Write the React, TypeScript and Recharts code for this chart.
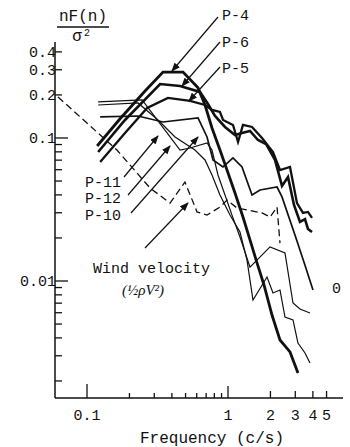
import React from 'react'
import { LineChart, Line, XAxis, YAxis } from 'recharts'

// frequency (c/s) and nF(n)/sigma^2
const p4Freq = [0.118, 0.171, 0.258, 0.346, 0.48, 0.613, 0.687, 0.77, 0.877, 0.984, 1.121, 1.277, 1.432, 1.606, 1.8, 2.051, 2.337, 2.752, 3.135]
const p4Vals = [0.0879, 0.1358, 0.2132, 0.289, 0.289, 0.224, 0.17, 0.1175, 0.0824, 0.0597, 0.0412, 0.028, 0.0194, 0.0134, 0.00938, 0.00578, 0.00387, 0.00319, 0.00227]

const p6Freq = [0.12, 0.186, 0.33, 0.457, 0.633, 0.721, 0.809, 0.952, 1.121, 1.257, 1.432, 1.632, 1.86, 2.154, 2.415, 2.664, 2.938, 3.24, 3.516, 3.69, 3.942]
const p6Vals = [0.0798, 0.1336, 0.2385, 0.231, 0.2098, 0.1729, 0.1425, 0.1194, 0.1049, 0.1084, 0.1119, 0.0968, 0.0908, 0.0702, 0.0462, 0.0534, 0.034, 0.0259, 0.0271, 0.0231, 0.022]

const p5Freq = [0.124, 0.186, 0.267, 0.375, 0.538, 0.687, 0.77, 0.877, 0.922, 1.085, 1.178, 1.277, 1.48, 1.742, 2.085, 2.337, 2.752, 3.084, 3.404, 3.69, 3.942]
const p5Vals = [0.068, 0.1084, 0.1621, 0.1905, 0.1815, 0.1701, 0.157, 0.152, 0.1336, 0.1233, 0.0938, 0.1233, 0.1194, 0.1, 0.0798, 0.0597, 0.0627, 0.0351, 0.0299, 0.0304, 0.0276]

const p11Freq = [0.124, 0.23, 0.346, 0.613, 0.71, 0.783, 0.922, 1.085, 1.257, 1.48, 1.686, 2.227, 2.415, 2.985, 3.516, 4.006]
const p11Vals = [0.1403, 0.1425, 0.1294, 0.138, 0.1016, 0.0702, 0.0627, 0.0725, 0.0627, 0.0399, 0.0433, 0.0454, 0.0387, 0.021, 0.0129, 0.00865]

const p12Freq = [0.12, 0.246, 0.457, 0.538, 0.71, 0.77, 0.849, 0.952, 1.067, 1.216, 1.432, 1.986, 2.536, 2.89, 3.24, 3.815]
const p12Vals = [0.1786, 0.1844, 0.0824, 0.0851, 0.0923, 0.0824, 0.0551, 0.0399, 0.0289, 0.0203, 0.0125, 0.0173, 0.0157, 0.00702, 0.00637, 0.00597]

const p10Freq = [0.12, 0.23, 0.319, 0.421, 0.583, 0.687, 0.77, 0.877, 1.033, 1.216, 1.364, 1.504, 1.891, 2.085, 2.337, 2.536, 2.89, 3.135, 3.516, 3.815]
const p10Vals = [0.1701, 0.1757, 0.1336, 0.1016, 0.0824, 0.0702, 0.0551, 0.0399, 0.0289, 0.022, 0.014, 0.00736, 0.01066, 0.00824, 0.00865, 0.0056, 0.00534, 0.00368, 0.00314, 0.00267]

const windFreq = [0.0623, 0.163, 0.28, 0.388, 0.495, 0.603, 0.71, 0.877, 0.984, 1.158, 1.364, 1.742, 1.986, 2.227, 2.337]
const windVals = [0.1935, 0.0824, 0.0447, 0.0351, 0.0492, 0.0304, 0.0289, 0.0329, 0.0368, 0.0324, 0.0314, 0.0299, 0.028, 0.0329, 0.0184]

const xTicks = [0.1, 0.2, 0.3, 0.4, 0.5, 0.6, 0.7, 0.8, 0.9, 1, 2, 3, 4, 5]
const xLabels = ['0.1', '1', '2', '3', '4', '5']
const yTicks = [0.4, 0.3, 0.2, 0.1, 0.09, 0.08, 0.07, 0.06, 0.05, 0.04, 0.03, 0.02, 0.01,
  0.009, 0.008, 0.007, 0.006, 0.005, 0.004, 0.003, 0.002]
const yLabels = ['0.4', '0.3', '0.2', '0.1', '0.01']

const toPoints = (fs: number[], vs: number[]) => fs.map((f, i) => ({ f, v: vs[i] }))

const series = [
  { name: 'P-4', data: toPoints(p4Freq, p4Vals), width: 2.8, dash: undefined },
  { name: 'P-6', data: toPoints(p6Freq, p6Vals), width: 2.6, dash: undefined },
  { name: 'P-5', data: toPoints(p5Freq, p5Vals), width: 2.3, dash: undefined },
  { name: 'P-11', data: toPoints(p11Freq, p11Vals), width: 1.7, dash: undefined },
  { name: 'P-12', data: toPoints(p12Freq, p12Vals), width: 1.2, dash: undefined },
  { name: 'P-10', data: toPoints(p10Freq, p10Vals), width: 1.2, dash: undefined },
  { name: 'Wind', data: toPoints(windFreq, windVals), width: 1.3, dash: '7 4' },
]

const FONT = "'Liberation Mono', 'Courier New', Cousine, monospace"
const INK = '#111'
const txt = { fontFamily: FONT }

const XTick = (props: any) => {
  const { x, y, payload } = props
  const val = payload.value
  const label = xLabels.find((l) => Number(l) === val)
  const len = val === 0.1 ? 14 : val === 1 ? 12 : label ? 7 : 5
  return (
    <g>
      <line x1={x} y1={y} x2={x} y2={y - len} stroke={INK} strokeWidth={1.3} />
      {label && (
        <text x={x} y={y + 22} textAnchor='middle' style={txt} fontSize={15} fill={INK}>
          {label}
        </text>
      )}
    </g>
  )
}

const YTick = (props: any) => {
  const { x, y, payload } = props
  const val = payload.value
  const label = yLabels.find((l) => Number(l) === val)
  const len = val === 0.1 || val === 0.01 ? 13 : 7
  return (
    <g>
      <line x1={x} y1={y} x2={x + len} y2={y} stroke={INK} strokeWidth={1.3} />
      {label && (
        <text x={x + 1} y={y + 5} textAnchor='end' style={txt} fontSize={15} fill={INK}>
          {label}
        </text>
      )}
    </g>
  )
}

const arrows = [
  [218, 17, 172, 71],
  [220, 42, 182, 86],
  [220, 67, 189, 101],
  [124, 177, 158, 136],
  [128, 195, 170, 146],
  [131, 213, 198, 137],
  [145, 248, 188, 203],
]

const Annotations = () => (
  <svg width={350} height={447} style={{ position: 'absolute', left: 0, top: 0, pointerEvents: 'none' }}>
    <defs>
      <marker id='ah' markerUnits='userSpaceOnUse' markerWidth={9} markerHeight={7} refX={8} refY={3.5} orient='auto'>
        <path d='M0,0 L9,3.5 L0,7 z' fill={INK} />
      </marker>
    </defs>
    <g style={txt} fill={INK}>
      <text x={83} y={21} textAnchor='middle' fontSize={16}>nF(n)</text>
      <line x1={57} y1={27} x2={109} y2={27} stroke={INK} strokeWidth={1.3} />
      <text x={77} y={41} textAnchor='middle' fontSize={16}>σ</text>
      <text x={87} y={36} textAnchor='middle' fontSize={10}>2</text>
      <text x={222} y={20} fontSize={15}>P-4</text>
      <text x={222} y={47} fontSize={15}>P-6</text>
      <text x={222} y={73} fontSize={15}>P-5</text>
      <text x={85} y={187} fontSize={15}>P-11</text>
      <text x={85} y={203} fontSize={15}>P-12</text>
      <text x={85} y={220} fontSize={15}>P-10</text>
      <text x={93} y={273} fontSize={15}>Wind velocity</text>
      <text x={122} y={295} fontSize={15} fontStyle='italic' style={{ fontFamily: "'Liberation Serif', serif" }}>(½ρV²)</text>
      <text x={332} y={293} fontSize={15}>0</text>
      <text x={212} y={443} textAnchor='middle' fontSize={16}>Frequency (c/s)</text>
    </g>
    {arrows.map(([x1, y1, x2, y2], i) => (
      <line key={i} x1={x1} y1={y1} x2={x2} y2={y2} stroke={INK} strokeWidth={1.2} markerEnd='url(#ah)' />
    ))}
  </svg>
)

export default function App() {
  return (
    <div style={{ position: 'absolute', left: 0, top: 0, width: 350, height: 447, background: '#fff' }}>
      <LineChart width={350} height={447} margin={{ top: 42, right: 7, bottom: 19, left: 10 }}>
        <XAxis
          type='number'
          dataKey='f'
          scale='log'
          domain={[0.0593, 6.54]}
          allowDataOverflow
          ticks={xTicks}
          interval={0}
          tick={(p: any) => <XTick {...p} />}
          tickSize={0}
          tickMargin={0}
          tickLine={false}
          height={30}
          axisLine={{ stroke: INK, strokeWidth: 1.5 }}
        />
        <YAxis
          type='number'
          dataKey='v'
          scale='log'
          domain={[0.00152, 0.469]}
          allowDataOverflow
          ticks={yTicks}
          interval={0}
          tick={(p: any) => <YTick {...p} />}
          tickSize={0}
          tickMargin={0}
          tickLine={false}
          width={45}
          axisLine={{ stroke: INK, strokeWidth: 1.5 }}
        />
        {series.map((s) => (
          <Line
            key={s.name}
            data={s.data}
            dataKey='v'
            type='linear'
            stroke={INK}
            strokeWidth={s.width}
            strokeDasharray={s.dash}
            dot={false}
            isAnimationActive={false}
          />
        ))}
      </LineChart>
      <Annotations />
    </div>
  )
}
